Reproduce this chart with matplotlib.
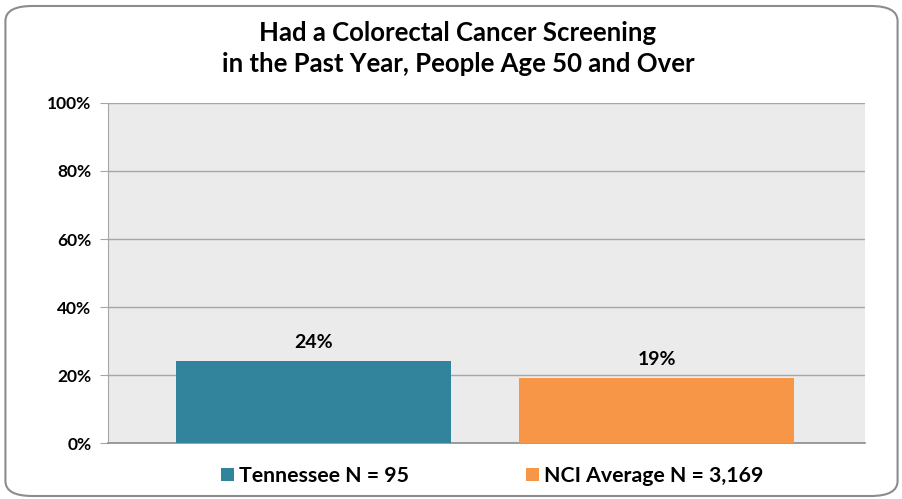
import matplotlib.pyplot as plt
from matplotlib.patches import FancyBboxPatch
from matplotlib.ticker import PercentFormatter

plt.rcParams['font.family'] = ['Lato', 'DejaVu Sans']
plt.rcParams['font.weight'] = 'bold'

series = ['Tennessee N = 95', 'NCI Average N = 3,169']
values = [24, 19]
colors = ['#31849B', '#F79646']
yticks = [0, 20, 40, 60, 80, 100]

fig = plt.figure(figsize=(9.03, 4.99), dpi=100)
frame = FancyBboxPatch((0.006, 0.006), 0.988, 0.982, boxstyle='round,pad=0,rounding_size=0.03',
                       transform=fig.transFigure, facecolor='white', edgecolor='#8C8C8C',
                       linewidth=1.5, zorder=-10)
fig.patches.append(frame)

ax = fig.add_axes([0.1196, 0.1122, 0.838, 0.6814])
ax.set_facecolor('#EBEBEB')

centers = [0.2715, 0.725]
width = 0.363
for i, (name, v) in enumerate(zip(series, values)):
    ax.bar(centers[i], v, width=width, color=colors[i], label=name, zorder=3)
    ax.text(centers[i], v + 3, f'{v}%', ha='center', va='bottom', fontsize=14, fontweight='bold')

ax.set_xlim(0, 1)
ax.set_ylim(0, 100)
ax.set_yticks(yticks)
ax.yaxis.set_major_formatter(PercentFormatter(decimals=0))
ax.set_xticks([])
ax.grid(axis='y', color='#A6A6A6', linewidth=1, zorder=0)
for s in ['top', 'right']:
    ax.spines[s].set_visible(False)
ax.spines['left'].set_color('#A6A6A6')
ax.spines['bottom'].set_color('#8C8C8C')
ax.spines['bottom'].set_linewidth(1.2)
ax.tick_params(axis='y', length=6, color='#A6A6A6', labelsize=12.5, pad=6)
for lbl in ax.get_yticklabels():
    lbl.set_fontweight('bold')

fig.text(0.507, 0.902, 'Had a Colorectal Cancer Screening\nin the Past Year, People Age 50 and Over',
         ha='center', va='center', fontsize=18.5, fontweight='bold', linespacing=1.35)

fig.legend(loc='center', bbox_to_anchor=(0.545, 0.046), ncol=2, frameon=False,
           handlelength=0.6, handleheight=0.6, columnspacing=5.5, handletextpad=0.25,
           prop={'weight': 'bold', 'size': 15.3})

fig.savefig('out.png', dpi=100)
